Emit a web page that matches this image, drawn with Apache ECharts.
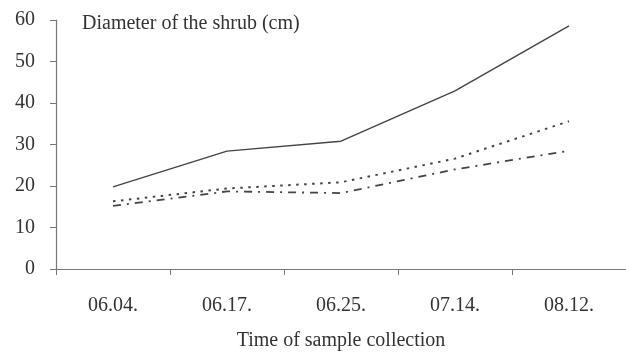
<!DOCTYPE html>
<html>
<head>
<meta charset="utf-8">
<script src="https://cdn.jsdelivr.net/npm/echarts@6/dist/echarts.min.js"></script>
<style>
  html, body { margin: 0; padding: 0; background: #fff; }
  #main { width: 626px; height: 356px; }
</style>
</head>
<body>
<div id="main"></div>
<script>
var dates = ["06.04.", "06.17.", "06.25.", "07.14.", "08.12."];
var solidLine = [19.8, 28.4, 30.8, 42.9, 58.6];
var dottedLine = [16.3, 19.4, 20.9, 26.6, 35.6];
var dashDotLine = [15.2, 18.7, 18.3, 24.0, 28.5];

var fontFam = "Liberation Serif";
var ink = "#444";

var chart = echarts.init(document.getElementById("main"));
chart.setOption({
  animation: false,
  backgroundColor: "#fff",
  title: {
    text: "Diameter of the shrub (cm)",
    left: 77,
    top: 9,
    textStyle: { fontFamily: fontFam, fontSize: 20, fontWeight: "normal", color: "#333" }
  },
  grid: { left: 56, right: 0, top: 20, bottom: 83 },
  xAxis: {
    type: "category",
    data: dates,
    name: "Time of sample collection",
    nameLocation: "middle",
    nameGap: 62,
    nameTextStyle: { fontFamily: fontFam, fontSize: 20, color: "#333" },
    axisLine: { lineStyle: { color: "#777", width: 1.2 } },
    axisTick: { show: true, length: 6, lineStyle: { color: "#777" } },
    axisLabel: { fontFamily: fontFam, fontSize: 20, color: "#333", margin: 27 },
    splitLine: { show: false }
  },
  yAxis: {
    type: "value",
    min: 0,
    max: 60,
    interval: 10,
    axisLine: { show: true, lineStyle: { color: "#777", width: 1.2 } },
    axisTick: { show: true, length: 6, lineStyle: { color: "#777" } },
    axisLabel: { fontFamily: fontFam, fontSize: 20, color: "#333", margin: 21 },
    splitLine: { show: false }
  },
  series: [
    {
      type: "line",
      data: solidLine,
      symbol: "none",
      lineStyle: { color: ink, width: 1.4, type: "solid" }
    },
    {
      type: "line",
      data: dottedLine,
      symbol: "none",
      lineStyle: { color: ink, width: 2, type: [2.5, 5.5] }
    },
    {
      type: "line",
      data: dashDotLine,
      symbol: "none",
      lineStyle: { color: ink, width: 1.8, type: [8, 6, 2, 6] }
    }
  ]
});
</script>
</body>
</html>
